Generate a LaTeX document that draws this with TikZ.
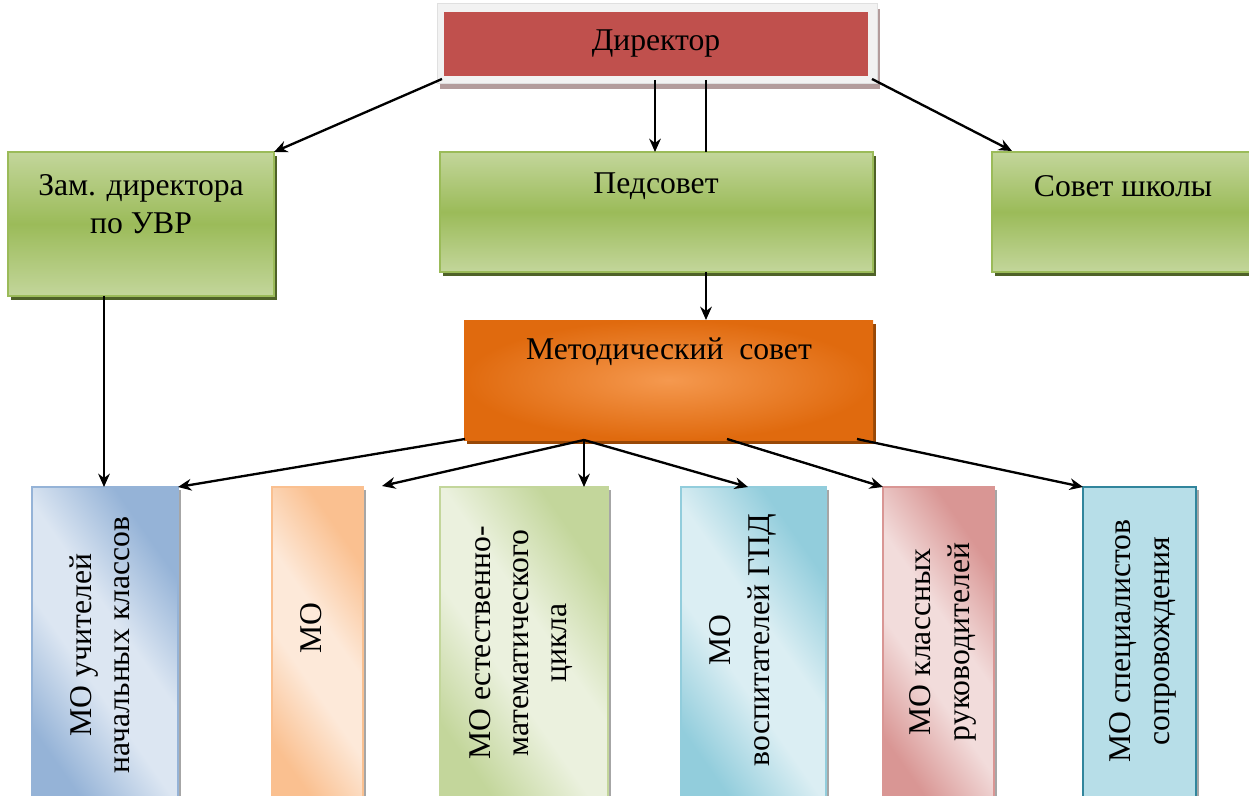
\documentclass[tikz,border=0pt]{standalone}
\usepackage{fontspec}
\setmainfont{Liberation Serif}
\usetikzlibrary{arrows.meta,calc,shadows}
\definecolor{dirred}{HTML}{C0504D}
\definecolor{dirshadow}{HTML}{B39C9C}
\definecolor{gtop}{HTML}{C3D69B}
\definecolor{gmid}{HTML}{9BBB59}
\definecolor{gshadow}{HTML}{4F6228}
\definecolor{oin}{HTML}{F5994F}
\definecolor{oout}{HTML}{E06A0E}
\definecolor{oshadow}{HTML}{984807}
\definecolor{aD}{HTML}{95B3D7}\definecolor{aL}{HTML}{DCE6F2}
\definecolor{bD}{HTML}{FAC090}\definecolor{bL}{HTML}{FDE9D9}
\definecolor{cD}{HTML}{C3D69B}\definecolor{cL}{HTML}{EBF1DE}
\definecolor{dD}{HTML}{92CDDC}\definecolor{dL}{HTML}{DBEEF3}
\definecolor{eD}{HTML}{D99694}\definecolor{eL}{HTML}{F2DCDB}
\definecolor{fF}{HTML}{B7DEE8}\definecolor{fB}{HTML}{31859C}
\pgfdeclarehorizontalshading{sha}{100bp}{color(0bp)=(aD); color(27bp)=(aD); color(44bp)=(aL); color(56bp)=(aL); color(73bp)=(aD); color(100bp)=(aD)}
\pgfdeclarehorizontalshading{shb}{100bp}{color(0bp)=(bD); color(27bp)=(bD); color(44bp)=(bL); color(56bp)=(bL); color(73bp)=(bD); color(100bp)=(bD)}
\pgfdeclarehorizontalshading{shc}{100bp}{color(0bp)=(cD); color(27bp)=(cD); color(44bp)=(cL); color(56bp)=(cL); color(73bp)=(cD); color(100bp)=(cD)}
\pgfdeclarehorizontalshading{shd}{100bp}{color(0bp)=(dD); color(27bp)=(dD); color(44bp)=(dL); color(56bp)=(dL); color(73bp)=(dD); color(100bp)=(dD)}
\pgfdeclarehorizontalshading{she}{100bp}{color(0bp)=(eD); color(27bp)=(eD); color(44bp)=(eL); color(56bp)=(eL); color(73bp)=(eD); color(100bp)=(eD)}
\begin{document}
\begin{tikzpicture}[x=0.6pt,y=-0.6pt,
  box/.style={anchor=north west,inner sep=0pt,outer sep=0pt,rectangle},
  lbl/.style={font=\fontsize{19}{23}\selectfont,align=center,inner sep=0pt},
  vlbl/.style={lbl,rotate=90},
  greenbox/.style={box,draw=gmid,line width=1pt,top color=gtop,bottom color=gtop,middle color=gmid,
    drop shadow={shadow xshift=2pt,shadow yshift=-2.4pt,fill=gshadow,opacity=1}},
  mobox/.style={box,draw=#1D,line width=1pt,minimum height=200pt,shading=sh#1,shading angle=35,
    drop shadow={shadow xshift=2pt,shadow yshift=-2pt,fill=black!35,opacity=1}},
  arr/.style={line width=1.4pt,-{Stealth[length=8pt,width=7pt]}},
  plain/.style={line width=0.9pt}]
\useasboundingbox (0,0) rectangle (1249,796);
\clip (0,0) rectangle (1249,796);
% top
\node[box,fill=black!5,draw=black!12,line width=0.6pt,minimum width=264pt,minimum height=48pt,
  drop shadow={shadow xshift=1.6pt,shadow yshift=-2.8pt,fill=dirshadow,opacity=1}] (dirF) at (437,4) {};
\node[box,fill=dirred,minimum width=254.4pt,minimum height=38.4pt] (dir) at (444,12) {};
\node[lbl] (dirT) at (656,44) {Директор};
% second row
\node[greenbox,minimum width=159.6pt,minimum height=86.4pt] (zam) at (8,152) {};
\node[lbl] (zamT) at (141,204) {Зам. директора\\по УВР};
\node[greenbox,minimum width=259.8pt,minimum height=72pt] (ped) at (440,152) {};
\node[lbl] (pedT) at (656,186) {Педсовет};
\node[greenbox,minimum width=162pt,minimum height=72pt] (sov) at (992,152) {};
\node[lbl] (sovT) at (1123,186) {Совет школы};
% methodical council
\node[box,inner color=oin,outer color=oout,minimum width=245.4pt,minimum height=72pt,
  drop shadow={shadow xshift=2pt,shadow yshift=-2.4pt,fill=oshadow,opacity=1}] (ms) at (464,320) {};
\node[lbl] (msT) at (669,352) {Методический\enspace совет};
% bottom row
\node[mobox=a,minimum width=87.6pt] (mo1) at (32,487) {};
\node[vlbl] (mo1T) at (100,645) {МО учителей\\начальных классов};
\node[mobox=b,minimum width=54.6pt] (mo2) at (272,487) {};
\node[vlbl] (mo2T) at (311,628) {МО};
\node[mobox=c,minimum width=100.8pt] (mo3) at (440,487) {};
\node[vlbl] (mo3T) at (521,643) {МО естественно-\\математического\\цикла};
\node[mobox=d,minimum width=87pt] (mo4) at (681,487) {};
\node[vlbl] (mo4T) at (743,640) {МО\\воспитателей ГПД};
\node[mobox=e,minimum width=66.6pt] (mo5) at (883,487) {};
\node[vlbl] (mo5T) at (943,642) {МО классных\\руководителей};
\node[box,fill=fF,draw=fB,line width=1.4pt,minimum width=67.8pt,minimum height=200pt,
  drop shadow={shadow xshift=2pt,shadow yshift=-2pt,fill=black!35,opacity=1}] (mo6) at (1083,487) {};
\node[vlbl] (mo6T) at (1143,641) {МО специалистов\\сопровождения};
% connectors
\draw[arr] ($(dirF.south west)+(5,-5)$) -- (zam.north east);
\draw[arr] ($(dir.south west)+(211,4)$) -- ($(ped.north west)+(215,0)$);
\draw[plain] ($(dir.south west)+(262,4)$) -- ($(ped.north west)+(266,0)$);
\draw[arr] ($(dirF.south east)+(-5,-5)$) -- ($(sov.north west)+(20,-1)$);
\draw[arr] ($(ped.south west)+(266,0)$) -- ($(ms.north west)+(242,0)$);
\draw[arr] ($(zam.south west)+(96,0)$) -- ($(mo1.north west)+(72,0)$);
\coordinate (fan) at ($(ms.south west)+(120,0)$);
\draw[arr] ($(ms.south west)+(1,-1)$) -- (mo1.north east);
\draw[arr] (fan) -- ($(mo2.north east)+(19,-1)$);
\draw[arr] (fan) -- ($(mo3.north west)+(144,0)$);
\draw[arr] (fan) -- ($(mo4.north west)+(67,0)$);
\draw[arr] ($(ms.south west)+(263,-1)$) -- (mo5.north west);
\draw[arr] ($(ms.south west)+(393,-1)$) -- (mo6.north west);
\end{tikzpicture}
\end{document}
